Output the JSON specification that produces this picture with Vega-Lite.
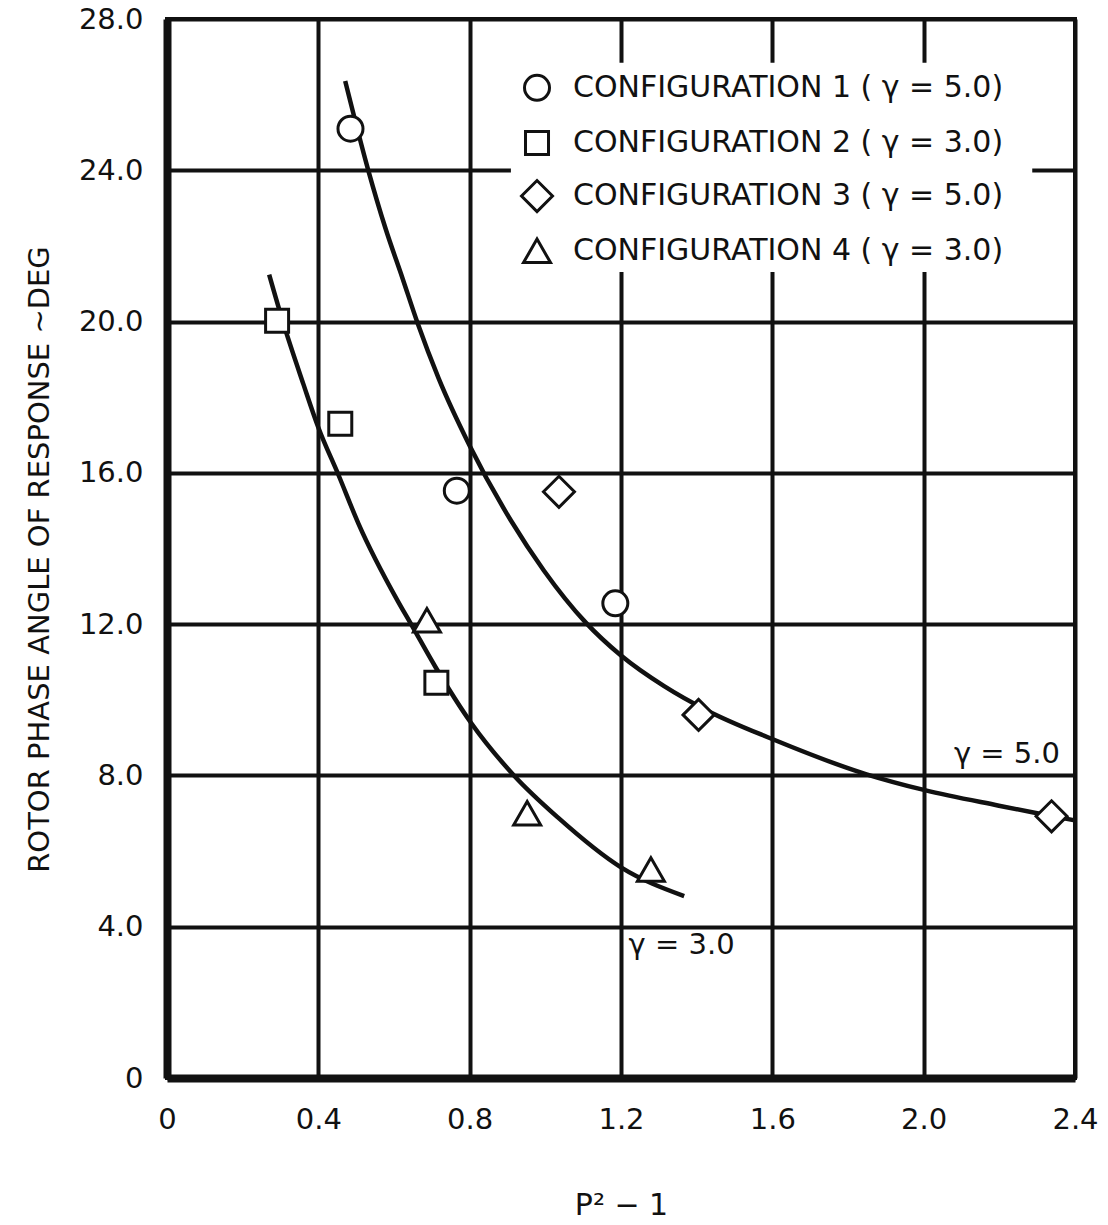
{
  "$schema": "https://vega.github.io/schema/vega-lite/v6.json",
  "width": 908,
  "height": 1059,
  "autosize": {"type": "none"},
  "padding": {"left": 167, "top": 19, "right": 33, "bottom": 147},
  "background": "white",
  "config": {
    "view": {"stroke": "#111", "strokeWidth": 4},
    "axis": {
      "grid": true,
      "zindex": 0,
      "gridColor": "#111",
      "gridWidth": 4,
      "gridOpacity": 1,
      "domainColor": "#111",
      "domainWidth": 8,
      "ticks": false,
      "labelFont": "DejaVu Sans",
      "labelFontSize": 29,
      "labelColor": "#111",
      "titleFont": "DejaVu Sans",
      "titleColor": "#111",
      "titleFontWeight": "normal"
    }
  },
  "datasets": {
    "points": [
      {"config": "CONFIGURATION 1 ( γ = 5.0)", "x": 0.485, "y": 25.1},
      {"config": "CONFIGURATION 1 ( γ = 5.0)", "x": 0.766, "y": 15.53},
      {"config": "CONFIGURATION 1 ( γ = 5.0)", "x": 1.185, "y": 12.55},
      {"config": "CONFIGURATION 2 ( γ = 3.0)", "x": 0.291, "y": 20.02},
      {"config": "CONFIGURATION 2 ( γ = 3.0)", "x": 0.458, "y": 17.3},
      {"config": "CONFIGURATION 2 ( γ = 3.0)", "x": 0.712, "y": 10.45},
      {"config": "CONFIGURATION 3 ( γ = 5.0)", "x": 1.036, "y": 15.5},
      {"config": "CONFIGURATION 3 ( γ = 5.0)", "x": 1.405, "y": 9.6},
      {"config": "CONFIGURATION 3 ( γ = 5.0)", "x": 2.338, "y": 6.92},
      {"config": "CONFIGURATION 4 ( γ = 3.0)", "x": 0.687, "y": 12.1},
      {"config": "CONFIGURATION 4 ( γ = 3.0)", "x": 0.952, "y": 7.0},
      {"config": "CONFIGURATION 4 ( γ = 3.0)", "x": 1.279, "y": 5.51}
    ],
    "key": [
      {"config": "CONFIGURATION 1 ( γ = 5.0)", "x": 0.978, "y": 26.18},
      {"config": "CONFIGURATION 2 ( γ = 3.0)", "x": 0.978, "y": 24.72},
      {"config": "CONFIGURATION 3 ( γ = 5.0)", "x": 0.978, "y": 23.32},
      {"config": "CONFIGURATION 4 ( γ = 3.0)", "x": 0.978, "y": 21.87}
    ],
    "keybox": [
      {"x": 0.909, "x2": 2.287, "y": 26.84, "y2": 21.31}
    ],
    "curves": [
      {"curve": "g5", "x": 0.471, "y": 26.36},
      {"curve": "g5", "x": 0.532, "y": 24.0},
      {"curve": "g5", "x": 0.577, "y": 22.48},
      {"curve": "g5", "x": 0.622, "y": 21.16},
      {"curve": "g5", "x": 0.662, "y": 19.97},
      {"curve": "g5", "x": 0.718, "y": 18.5},
      {"curve": "g5", "x": 0.8, "y": 16.72},
      {"curve": "g5", "x": 0.909, "y": 14.74},
      {"curve": "g5", "x": 0.996, "y": 13.42},
      {"curve": "g5", "x": 1.107, "y": 12.04},
      {"curve": "g5", "x": 1.2, "y": 11.17},
      {"curve": "g5", "x": 1.314, "y": 10.36},
      {"curve": "g5", "x": 1.427, "y": 9.72},
      {"curve": "g5", "x": 1.598, "y": 8.97},
      {"curve": "g5", "x": 1.849, "y": 8.03},
      {"curve": "g5", "x": 2.003, "y": 7.61},
      {"curve": "g5", "x": 2.199, "y": 7.2},
      {"curve": "g5", "x": 2.3, "y": 7.0},
      {"curve": "g5", "x": 2.4, "y": 6.81},
      {"curve": "g3", "x": 0.27, "y": 21.24},
      {"curve": "g3", "x": 0.307, "y": 19.97},
      {"curve": "g3", "x": 0.36, "y": 18.36},
      {"curve": "g3", "x": 0.4, "y": 17.2},
      {"curve": "g3", "x": 0.453, "y": 15.95},
      {"curve": "g3", "x": 0.506, "y": 14.66},
      {"curve": "g3", "x": 0.609, "y": 12.63},
      {"curve": "g3", "x": 0.644, "y": 12.02},
      {"curve": "g3", "x": 0.71, "y": 10.86},
      {"curve": "g3", "x": 0.803, "y": 9.4},
      {"curve": "g3", "x": 0.917, "y": 8.0},
      {"curve": "g3", "x": 1.033, "y": 6.89},
      {"curve": "g3", "x": 1.2, "y": 5.57},
      {"curve": "g3", "x": 1.367, "y": 4.81}
    ],
    "notes": [
      {"label": "γ = 5.0", "x": 2.08, "y": 8.33},
      {"label": "γ = 3.0", "x": 1.22, "y": 3.27}
    ]
  },
  "encoding": {
    "x": {
      "field": "x",
      "type": "quantitative",
      "scale": {"domain": [0, 2.4], "nice": false, "zero": true},
      "axis": {
        "values": [0, 0.4, 0.8, 1.2, 1.6, 2.0, 2.4],
        "labelExpr": "datum.value == 0 ? '0' : format(datum.value, '.1f')",
        "labelPadding": 27,
        "labelBaseline": "top",
        "labelFlush": false,
        "title": "P² − 1",
        "titleFontSize": 30,
        "titleX": 454,
        "titleY": 136,
        "titleBaseline": "alphabetic",
        "titleAlign": "center",
        "zindex": 0
      }
    },
    "y": {
      "field": "y",
      "type": "quantitative",
      "scale": {"domain": [0, 28], "nice": false, "zero": true},
      "axis": {
        "values": [0, 4, 8, 12, 16, 20, 24, 28],
        "labelExpr": "datum.value == 0 ? '0' : format(datum.value, '.1f')",
        "labelPadding": 24,
        "labelFlush": false,
        "title": "ROTOR PHASE ANGLE OF RESPONSE ~DEG",
        "titleFontSize": 29,
        "titleX": -119,
        "titleY": 540,
        "titleAngle": 270,
        "titleBaseline": "alphabetic",
        "titleAlign": "center",
        "zindex": 0
      }
    }
  },
  "layer": [
    {
      "data": {"name": "keybox"},
      "mark": {"type": "rect", "fill": "white", "opacity": 1},
      "encoding": {
        "x2": {"field": "x2"},
        "y2": {"field": "y2"}
      }
    },
    {
      "data": {"name": "curves"},
      "mark": {"type": "line", "interpolate": "monotone", "stroke": "#111", "strokeWidth": 4.5},
      "encoding": {"detail": {"field": "curve", "type": "nominal"}}
    },
    {
      "data": {"name": "points"},
      "mark": {"type": "point", "filled": true, "fill": "white", "stroke": "#111", "strokeWidth": 3, "opacity": 1, "size": 625},
      "encoding": {
        "shape": {
          "field": "config",
          "type": "nominal",
          "scale": {
            "domain": ["CONFIGURATION 1 ( γ = 5.0)", "CONFIGURATION 2 ( γ = 3.0)", "CONFIGURATION 3 ( γ = 5.0)", "CONFIGURATION 4 ( γ = 3.0)"],
            "range": [
              "circle",
              "M-0.92,-0.92H0.92V0.92H-0.92Z",
              "M-1.24,0L0,-1.24L1.24,0L0,1.24Z",
              "M0,-0.94L1.08,0.94L-1.08,0.94Z"
            ]
          },
          "legend": null
        }
      }
    },
    {
      "data": {"name": "key"},
      "mark": {"type": "point", "filled": true, "fill": "white", "stroke": "#111", "strokeWidth": 3, "opacity": 1, "size": 625},
      "encoding": {
        "shape": {"field": "config", "type": "nominal", "legend": null}
      }
    },
    {
      "data": {"name": "key"},
      "mark": {"type": "text", "align": "left", "baseline": "middle", "dx": 36, "font": "DejaVu Sans", "fontSize": 30, "fill": "#111"},
      "encoding": {"text": {"field": "config", "type": "nominal"}}
    },
    {
      "data": {"name": "notes"},
      "mark": {"type": "text", "align": "left", "baseline": "alphabetic", "font": "DejaVu Sans", "fontSize": 29, "fill": "#111"},
      "encoding": {"text": {"field": "label", "type": "nominal"}}
    }
  ]
}
